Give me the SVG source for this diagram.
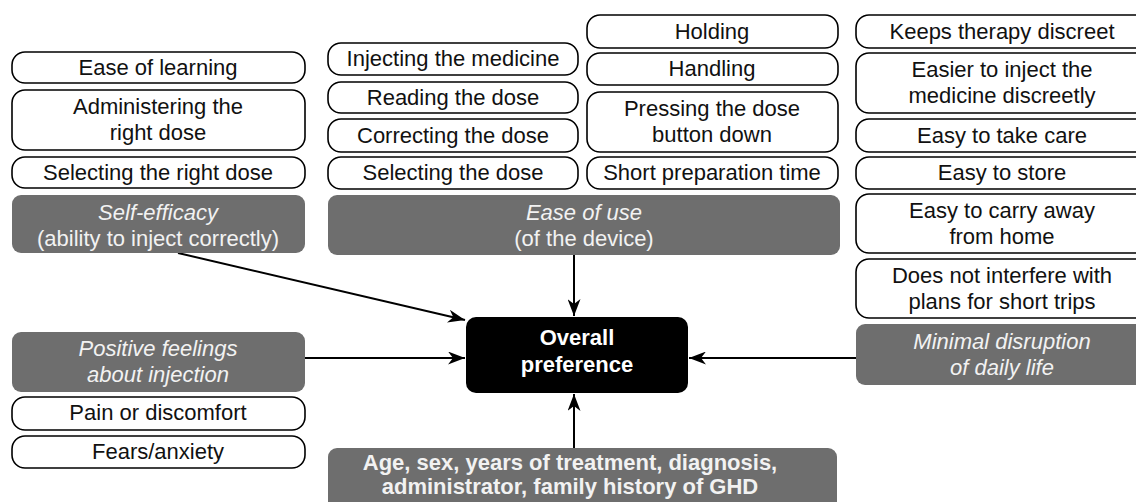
<svg xmlns="http://www.w3.org/2000/svg" width="1136" height="502" viewBox="0 0 1136 502">
<defs>
<marker id="ah" viewBox="0 0 17 13" refX="17" refY="6.5" markerWidth="17" markerHeight="13" markerUnits="userSpaceOnUse" orient="auto">
<path d="M0,0 L17,6.5 L0,13 L5,6.5 z" fill="#000"/>
</marker>
<style>
.w rect{fill:#fff;stroke:#000;stroke-width:1.6}
.g rect{fill:#6e6e6e;stroke:none}
text{font-family:"Liberation Sans",Arial,sans-serif;font-size:22px;text-anchor:middle}
.w text{fill:#111}
.g text{fill:#f2f2f2;font-style:italic}
.g text.b{font-style:normal;font-weight:bold}
.k rect{fill:#000}
.k text{fill:#fff;font-weight:bold}
.c path{stroke:#000;stroke-width:2;fill:none;marker-end:url(#ah)}
</style>
</defs>
<rect width="1136" height="502" fill="#fff"/>

<g class="c" id="connectors">
<path d="M574 255 L574 316"/>
<path d="M574 448 L574 394"/>
<path d="M305 358 L465 358"/>
<path d="M856 358 L689 358"/>
<path d="M178 253 L465 320"/>
</g>

<!-- Left column -->
<g class="w" id="n-ease-learning"><rect x="12" y="52" width="293" height="31" rx="13"/><text x="158" y="75">Ease of learning</text></g>
<g class="w" id="n-administering"><rect x="12" y="90" width="293" height="60" rx="13"/><text x="158" y="114">Administering the</text><text x="158" y="140">right dose</text></g>
<g class="w" id="n-select-right"><rect x="12" y="157" width="293" height="31" rx="13"/><text x="158" y="180">Selecting the right dose</text></g>
<g class="g" id="n-self-efficacy"><rect x="12" y="195" width="293" height="58" rx="9"/><text x="158" y="220">Self-efficacy</text><text x="158" y="246" style="font-style:normal">(ability to inject correctly)</text></g>

<!-- Middle column -->
<g class="w" id="n-injecting"><rect x="328" y="43" width="250" height="32" rx="13"/><text x="453" y="66">Injecting the medicine</text></g>
<g class="w" id="n-reading"><rect x="328" y="82" width="250" height="31" rx="13"/><text x="453" y="105">Reading the dose</text></g>
<g class="w" id="n-correcting"><rect x="328" y="119" width="250" height="33" rx="13"/><text x="453" y="143">Correcting the dose</text></g>
<g class="w" id="n-selecting"><rect x="328" y="157" width="250" height="32" rx="13"/><text x="453" y="180">Selecting the dose</text></g>
<g class="g" id="n-ease-use"><rect x="328" y="195" width="512" height="60" rx="9"/><text x="584" y="220">Ease of use</text><text x="584" y="246" style="font-style:normal">(of the device)</text></g>

<!-- Third column -->
<g class="w" id="n-holding"><rect x="587" y="15" width="251" height="33" rx="13"/><text x="712" y="39">Holding</text></g>
<g class="w" id="n-handling"><rect x="587" y="53" width="251" height="32" rx="13"/><text x="712" y="76">Handling</text></g>
<g class="w" id="n-pressing"><rect x="587" y="92" width="251" height="60" rx="13"/><text x="712" y="116">Pressing the dose</text><text x="712" y="142">button down</text></g>
<g class="w" id="n-short-prep"><rect x="587" y="157" width="251" height="32" rx="13"/><text x="712" y="180">Short preparation time</text></g>

<!-- Right column -->
<g class="w" id="n-keeps"><rect x="856" y="15" width="292" height="33" rx="13"/><text x="1002" y="39">Keeps therapy discreet</text></g>
<g class="w" id="n-easier"><rect x="856" y="53" width="292" height="60" rx="13"/><text x="1002" y="77">Easier to inject the</text><text x="1002" y="103">medicine discreetly</text></g>
<g class="w" id="n-take-care"><rect x="856" y="119" width="292" height="33" rx="13"/><text x="1002" y="143">Easy to take care</text></g>
<g class="w" id="n-store"><rect x="856" y="157" width="292" height="32" rx="13"/><text x="1002" y="180">Easy to store</text></g>
<g class="w" id="n-carry"><rect x="856" y="194" width="292" height="59" rx="13"/><text x="1002" y="218">Easy to carry away</text><text x="1002" y="244">from home</text></g>
<g class="w" id="n-interfere"><rect x="856" y="259" width="292" height="59" rx="13"/><text x="1002" y="283">Does not interfere with</text><text x="1002" y="309">plans for short trips</text></g>
<g class="g" id="n-minimal"><rect x="856" y="324" width="292" height="61" rx="9"/><text x="1002" y="349">Minimal disruption</text><text x="1002" y="375">of  daily life</text></g>

<!-- Left bottom -->
<g class="g" id="n-positive"><rect x="12" y="332" width="293" height="60" rx="9"/><text x="158" y="356">Positive feelings</text><text x="158" y="382">about injection</text></g>
<g class="w" id="n-pain"><rect x="12" y="397" width="293" height="33" rx="13"/><text x="158" y="420">Pain or discomfort</text></g>
<g class="w" id="n-fears"><rect x="12" y="436" width="293" height="32" rx="13"/><text x="158" y="459">Fears/anxiety</text></g>

<!-- Center -->
<g class="k" id="n-overall"><rect x="466" y="317" width="222" height="76" rx="10"/><text x="577" y="345">Overall</text><text x="577" y="372">preference</text></g>

<!-- Bottom -->
<g class="g" id="n-demographics"><rect x="328" y="448" width="509" height="70" rx="9"/><text class="b" x="570" y="470">Age, sex, years of treatment, diagnosis,</text><text class="b" x="570" y="494">administrator, family history of GHD</text></g>
</svg>
